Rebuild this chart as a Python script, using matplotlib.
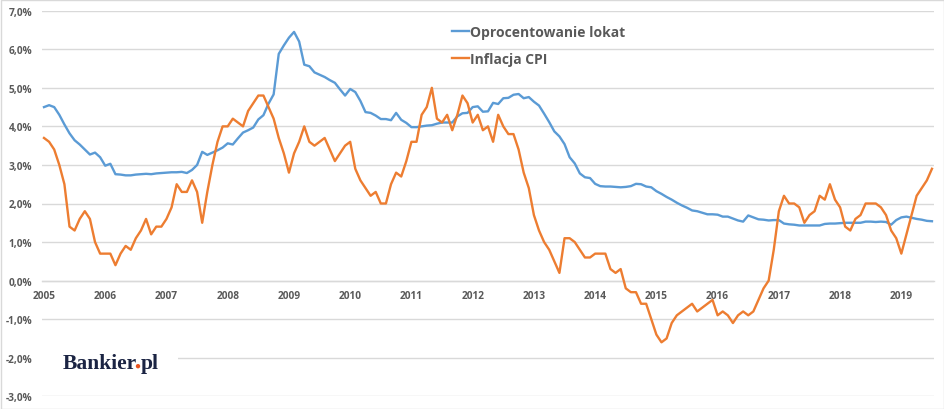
import numpy as np
import matplotlib
matplotlib.use("Agg")
import matplotlib.pyplot as plt
from matplotlib.patches import Rectangle, Ellipse

# monthly data, Jan 2005 - Jul 2019 (values in %)

years = list(range(2005, 2020))

lokaty = [4.50, 4.55, 4.50, 4.30, 4.05, 3.82, 3.64, 3.53, 3.40, 3.27, 3.32, 3.20,
          2.98, 3.03, 2.76, 2.75, 2.73, 2.73, 2.75, 2.76, 2.77, 2.76, 2.78, 2.79,
          2.80, 2.81, 2.81, 2.82, 2.79, 2.87, 3.00, 3.34, 3.26, 3.32, 3.38, 3.45,
          3.56, 3.53, 3.69, 3.84, 3.90, 3.97, 4.18, 4.29, 4.59, 4.83, 5.88, 6.10,
          6.30, 6.45, 6.20, 5.60, 5.56, 5.40, 5.34, 5.28, 5.20, 5.13, 4.96, 4.80,
          4.97, 4.89, 4.66, 4.37, 4.35, 4.28, 4.19, 4.19, 4.16, 4.35, 4.17, 4.09,
          3.98, 3.98, 4.00, 4.02, 4.03, 4.07, 4.10, 4.10, 4.10, 4.26, 4.34, 4.35,
          4.50, 4.52, 4.38, 4.39, 4.61, 4.58, 4.73, 4.74, 4.82, 4.84, 4.73, 4.76,
          4.64, 4.54, 4.33, 4.11, 3.87, 3.74, 3.54, 3.20, 3.04, 2.78, 2.68, 2.66,
          2.51, 2.45, 2.44, 2.44, 2.43, 2.42, 2.43, 2.45, 2.51, 2.50, 2.44, 2.42,
          2.32, 2.25, 2.17, 2.10, 2.02, 1.95, 1.89, 1.82, 1.80, 1.76, 1.72, 1.72,
          1.71, 1.66, 1.66, 1.61, 1.56, 1.53, 1.69, 1.64, 1.59, 1.58, 1.56, 1.57,
          1.57, 1.48, 1.46, 1.45, 1.43, 1.43, 1.43, 1.43, 1.43, 1.47, 1.48, 1.48,
          1.49, 1.50, 1.50, 1.50, 1.50, 1.53, 1.53, 1.52, 1.53, 1.52, 1.45, 1.57,
          1.64, 1.66, 1.63, 1.60, 1.58, 1.55, 1.54]

cpi = [3.7, 3.6, 3.4, 3.0, 2.5, 1.4, 1.3, 1.6, 1.8, 1.6, 1.0, 0.7,
       0.7, 0.7, 0.4, 0.7, 0.9, 0.8, 1.1, 1.3, 1.6, 1.2, 1.4, 1.4,
       1.6, 1.9, 2.5, 2.3, 2.3, 2.6, 2.3, 1.5, 2.3, 3.0, 3.6, 4.0,
       4.0, 4.2, 4.1, 4.0, 4.4, 4.6, 4.8, 4.8, 4.5, 4.2, 3.7, 3.3,
       2.8, 3.3, 3.6, 4.0, 3.6, 3.5, 3.6, 3.7, 3.4, 3.1, 3.3, 3.5,
       3.6, 2.9, 2.6, 2.4, 2.2, 2.3, 2.0, 2.0, 2.5, 2.8, 2.7, 3.1,
       3.6, 3.6, 4.3, 4.5, 5.0, 4.2, 4.1, 4.3, 3.9, 4.3, 4.8, 4.6,
       4.1, 4.3, 3.9, 4.0, 3.6, 4.3, 4.0, 3.8, 3.8, 3.4, 2.8, 2.4,
       1.7, 1.3, 1.0, 0.8, 0.5, 0.2, 1.1, 1.1, 1.0, 0.8, 0.6, 0.6,
       0.7, 0.7, 0.7, 0.3, 0.2, 0.3, -0.2, -0.3, -0.3, -0.6, -0.6, -1.0,
       -1.4, -1.6, -1.5, -1.1, -0.9, -0.8, -0.7, -0.6, -0.8, -0.7, -0.6, -0.5,
       -0.9, -0.8, -0.9, -1.1, -0.9, -0.8, -0.9, -0.8, -0.5, -0.2, 0.0, 0.8,
       1.8, 2.2, 2.0, 2.0, 1.9, 1.5, 1.7, 1.8, 2.2, 2.1, 2.5, 2.1,
       1.9, 1.4, 1.3, 1.6, 1.7, 2.0, 2.0, 2.0, 1.9, 1.7, 1.3, 1.1,
       0.7, 1.2, 1.7, 2.2, 2.4, 2.6, 2.9]

y_ticks = list(range(-3, 8))

W, H = 945, 410
fig = plt.figure(figsize=(W / 100, H / 100), dpi=100)
ax = fig.add_axes([41.7 / W, 1 - 397.3 / H, (934 - 41.7) / W, (397.3 - 11.7) / H])

months = np.arange(len(lokaty))
ax.plot(months, lokaty, color="#5B9BD5", lw=1.7, label="Oprocentowanie lokat", zorder=3)
ax.plot(np.arange(len(cpi)), cpi, color="#ED7D31", lw=1.7, label="Inflacja CPI", zorder=3)

ax.set_xlim(-0.45, 174.4)
ax.set_ylim(-3, 7)

# grid
ax.set_yticks(y_ticks)
ax.set_yticklabels([("%.1f%%" % v).replace(".", ",") for v in y_ticks])
ax.grid(axis="y", color="#D9D9D9", lw=1.0, zorder=0)
for s in ["top", "right", "left"]:
    ax.spines[s].set_visible(False)
ax.spines["bottom"].set_position(("data", 0))
ax.spines["bottom"].set_color("#D9D9D9")
ax.spines["bottom"].set_linewidth(1.0)
ax.set_xticks([12 * i for i in range(len(years))])
ax.set_xticklabels([str(y) for y in years])

tick_font = dict(family="Open Sans", weight="bold", size=7.3, color="#595959")
for lab in ax.get_xticklabels() + ax.get_yticklabels():
    lab.set(**tick_font)
ax.tick_params(axis="both", length=0)
ax.tick_params(axis="x", pad=6.5)
ax.tick_params(axis="y", pad=7)

# legend
leg = fig.legend(loc="upper left", bbox_to_anchor=(452 / W, 1 - 26 / H), frameon=False,
                 borderpad=0, borderaxespad=0, handlelength=1.2, handletextpad=0.08,
                 labelspacing=0.95, prop=dict(family="Open Sans", weight="bold", size=10))
for t in leg.get_texts():
    t.set_color("#595959")

# logo with white box behind it
fig.patches.append(Rectangle((42 / W, 1 - 385 / H), (178 - 42) / W, 40 / H,
                             transform=fig.transFigure, facecolor="white",
                             edgecolor="none", zorder=5))
logo_font = dict(family="Liberation Serif", weight="bold", size=15.5, color="#1b2443")
base_px = 369.5
x0 = 63
# measure pieces so that "Bankier" and "pl" sit where they would in one string
r = fig.canvas.get_renderer()
def width(s):
    t = fig.text(0, 0, s, **logo_font)
    w = t.get_window_extent(renderer=r).width
    t.remove()
    return w
w_full = width("Bankier.pl")
x_dot = x0 + w_full - width(".pl")
x_pl = x0 + w_full - width("pl")
fig.text(x0 / W, 1 - base_px / H, "Bankier", va="baseline", zorder=6, **logo_font)
fig.text(x_pl / W, 1 - base_px / H, "pl", va="baseline", zorder=6, **logo_font)
# red dot of the logo
dot_cx = (x_dot + x_pl) / 2
fig.patches.append(Ellipse((dot_cx / W, 1 - (base_px - 2.3) / H), 4.4 / W, 4.4 / H,
                           transform=fig.transFigure, facecolor="#E9531E",
                           edgecolor="none", zorder=6))

# chart border
fig.patches.append(Rectangle((0.5 / W, 0.5 / H), (W - 1.5) / W, (H - 1.5) / H,
                             transform=fig.transFigure, facecolor="none",
                             edgecolor="#D9D9D9", lw=1.0, zorder=10))

fig.savefig("out.png", dpi=100)
